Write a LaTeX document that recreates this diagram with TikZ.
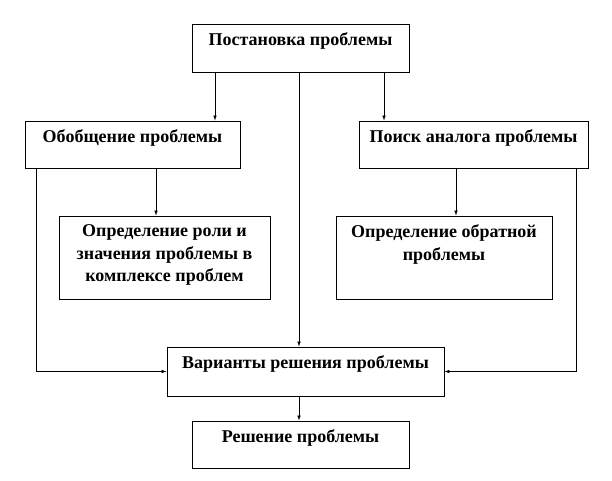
\documentclass[tikz,border=0pt]{standalone}
\usepackage{fontspec}
\setmainfont{Liberation Serif}
\usetikzlibrary{positioning,calc,arrows.meta}

\begin{document}
\begin{tikzpicture}[x=1pt,y=-1pt,
    box/.style={draw, line width=0.8pt, inner sep=0pt},
    txt/.style={anchor=north, yshift=-9pt, inner sep=0pt, align=center, font=\fontsize{18}{22.5}\selectfont\bfseries},
    arr/.style={line width=0.6pt, -{Latex[length=5pt,width=3.5pt]}}]
    \useasboundingbox (0,0) rectangle (612,480);
    \node[box, minimum width=217pt, minimum height=48pt, label={[txt]north:Постановка проблемы}] (A) at (300.5,48) {};
    \node[box, minimum width=215pt, minimum height=47pt, label={[txt]north:Обобщение проблемы}] (B) at (132.5,144.5) {};
    \node[box, minimum width=229pt, minimum height=47pt, label={[txt]north:Поиск аналога проблемы}] (C) at (473.5,144.5) {};
    \node[box, minimum width=211pt, minimum height=83pt, label={[txt]north:Определение роли и\\значения проблемы в\\комплексе проблем}] (D) at (164.5,257.5) {};
    \node[box, minimum width=216pt, minimum height=83pt, label={[txt]north:Определение обратной\\проблемы}] (E) at (444,257.5) {};
    \node[box, minimum width=277pt, minimum height=49pt, label={[txt]north:Варианты решения проблемы}] (F) at (305.5,371.5) {};
    \node[box, minimum width=217pt, minimum height=47pt, label={[txt]north:Решение проблемы}] (G) at (300.5,444.5) {};
    \draw[arr] (A.south -| 215,0) -- (B.north -| 215,0);
    \draw[arr] (A.south -| 384,0) -- (C.north -| 384,0);
    \draw[arr] (A.south -| 299,0) -- (F.north -| 299,0);
    \draw[arr] (B.south -| 156,0) -- (D.north -| 156,0);
    \draw[arr] (C.south -| 456,0) -- (E.north -| 456,0);
    \draw[arr] (B.south -| 36,0) |- (F.west);
    \draw[arr] (C.south -| 576,0) |- (F.east);
    \draw[arr] (F.south -| 299,0) -- (G.north -| 299,0);
\end{tikzpicture}
\end{document}
